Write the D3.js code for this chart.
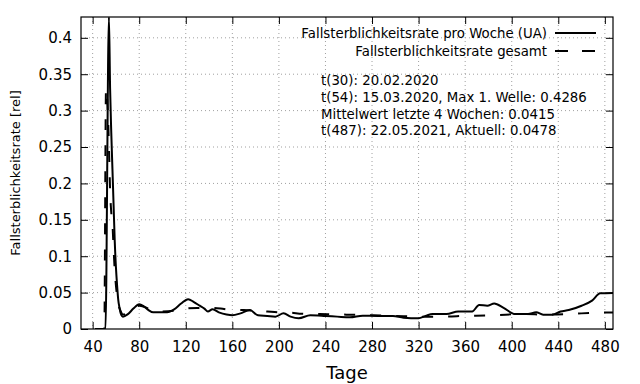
<!DOCTYPE html>
<html>
<head>
<meta charset="utf-8">
<script src="https://cdn.jsdelivr.net/npm/d3@7/dist/d3.min.js"></script>
<style>
  body { margin: 0; background: #fff; }
  svg { font-family: "DejaVu Sans", sans-serif; }
  .grid line { stroke: #a0a0a0; stroke-dasharray: 1,3; }
</style>
</head>
<body>
<svg id="my-svg" width="640" height="384"></svg>
<script>
// Tage (x) und Werte der beiden Kurven
const weekDays = [42, 51, 54, 55, 56, 57, 58, 59, 60, 61, 62, 63, 64, 66, 70, 75, 80, 84, 88, 92, 98, 104,
    110, 116, 122, 127, 132, 136, 139, 143, 149, 155, 160, 167, 175, 182, 190, 197, 204, 210, 217, 227,
    240, 250, 261, 272, 285, 298, 307, 320, 326, 332, 344, 354, 366, 372, 379, 385, 393, 403, 414, 421,
    427, 435, 442, 449, 460, 469, 476, 487];
const weekRate = [0, 0, 0.4286, 0.33, 0.27, 0.22, 0.17, 0.12, 0.085, 0.06, 0.04, 0.03, 0.022, 0.017, 0.02, 0.028, 0.034, 0.031, 0.026, 0.023, 0.023, 0.023,
    0.027, 0.035, 0.041, 0.037, 0.032, 0.028, 0.024, 0.027, 0.0225, 0.02, 0.019, 0.0215, 0.026, 0.019, 0.018, 0.017, 0.0215, 0.017, 0.0147, 0.019,
    0.018, 0.017, 0.016, 0.0183, 0.018, 0.018, 0.0155, 0.0147, 0.018, 0.0206, 0.0206, 0.024, 0.024, 0.033, 0.032, 0.035, 0.029, 0.0206, 0.0206, 0.023,
    0.0197, 0.0197, 0.024, 0.026, 0.032, 0.039, 0.049, 0.0495];

const totalDays = [42, 50, 51.5, 53, 54, 55, 56, 57, 58, 59, 60, 61, 62, 64, 66, 70, 75, 80, 85, 92, 100, 110,
    120, 130, 140, 150, 160, 170, 180, 190, 200, 210, 220, 235, 250, 265, 280, 300, 320, 340, 360, 385,
    410, 430, 450, 475, 487];
const totalRate = [0, 0, 0.33, 0.3, 0.25, 0.19, 0.16, 0.145, 0.11, 0.08, 0.06, 0.045, 0.035, 0.025, 0.02, 0.022, 0.028, 0.032, 0.03, 0.025, 0.024, 0.025,
    0.028, 0.029, 0.029, 0.028, 0.026, 0.026, 0.025, 0.024, 0.023, 0.0225, 0.021, 0.0205, 0.02, 0.0195, 0.019, 0.018, 0.017, 0.017, 0.018, 0.019,
    0.0206, 0.0197, 0.0206, 0.0225, 0.0225];

const xTicks = [40, 80, 120, 160, 200, 240, 280, 320, 360, 400, 440, 480];
const yTicks = [0, 0.05, 0.1, 0.15, 0.2, 0.25, 0.3, 0.35, 0.4];

const legendLabels = ["Fallsterblichkeitsrate pro Woche (UA)", "Fallsterblichkeitsrate gesamt"];
const noteLines = [
    "t(30): 20.02.2020",
    "t(54): 15.03.2020, Max 1. Welle: 0.4286",
    "Mittelwert letzte 4 Wochen: 0.0415",
    "t(487): 22.05.2021, Aktuell: 0.0478"
];

const svg = d3.select('svg');
const margin = {top: 17, right: 27, bottom: 55, left: 81};
const innerWidth = 640 - margin.left - margin.right;
const innerHeight = 384 - margin.top - margin.bottom;

const xScale = d3.scaleLinear().domain([30, 487]).range([0, innerWidth]);
const yScale = d3.scaleLinear().domain([0, 0.4286]).range([innerHeight, 0]);

const g = svg.append('g').attr('transform', `translate(${margin.left}, ${margin.top})`);

// Gitter
g.append('g').attr('class', 'grid')
    .selectAll('line').data(xTicks).enter().append('line')
    .attr('x1', d => xScale(d)).attr('x2', d => xScale(d))
    .attr('y1', 0).attr('y2', innerHeight);
g.append('g').attr('class', 'grid')
    .selectAll('line').data(yTicks.filter(d => d > 0)).enter().append('line')
    .attr('x1', 0).attr('x2', innerWidth)
    .attr('y1', d => yScale(d)).attr('y2', d => yScale(d));

const yFormat = d => d === 0 ? '0' : String(+d.toFixed(2));

const xAxis = d3.axisBottom(xScale).tickValues(xTicks).tickSize(-7).tickPadding(12);
const yAxis = d3.axisLeft(yScale).tickValues(yTicks).tickSize(-7).tickPadding(9).tickFormat(yFormat);

g.append('g').call(xAxis)
    .attr('transform', `translate(0, ${innerHeight})`)
    .attr('font-size', 15).attr('font-family', '"DejaVu Sans", sans-serif');
g.append('g').call(yAxis)
    .attr('font-size', 15).attr('font-family', '"DejaVu Sans", sans-serif');

// gespiegelte Ticks oben und rechts, ohne Beschriftung
const topTicks = g.append('g').call(d3.axisTop(xScale).tickValues(xTicks).tickSize(-7));
const rightTicks = g.append('g').call(d3.axisRight(yScale).tickValues(yTicks).tickSize(-7))
    .attr('transform', `translate(${innerWidth}, 0)`);
topTicks.selectAll('text').remove();
rightTicks.selectAll('text').remove();

g.selectAll('.domain').remove();
g.selectAll('.tick line').attr('stroke', '#000');
g.selectAll('.tick text').attr('fill', '#000');

g.append('rect')
    .attr('width', innerWidth).attr('height', innerHeight)
    .attr('fill', 'none').attr('stroke', '#000').attr('stroke-width', 1.2);

// Kurven
g.append('clipPath').attr('id', 'clip')
    .append('rect').attr('width', innerWidth).attr('height', innerHeight);

const line = d3.line()
    .x(d => xScale(d[0]))
    .y(d => yScale(d[1]))
    .curve(d3.curveMonotoneX);

g.append('path')
    .datum(totalDays.map((d, i) => [d, totalRate[i]]))
    .attr('clip-path', 'url(#clip)')
    .attr('fill', 'none').attr('stroke', '#000').attr('stroke-width', 2)
    .attr('stroke-dasharray', '11,15')
    .attr('d', line);

g.append('path')
    .datum(weekDays.map((d, i) => [d, weekRate[i]]))
    .attr('clip-path', 'url(#clip)')
    .attr('fill', 'none').attr('stroke', '#000').attr('stroke-width', 2)
    .attr('d', line);

// Legende
const legend = svg.append('g');
legendLabels.forEach((label, i) => {
    const y = 33 + i * 18;
    legend.append('text')
        .attr('x', 547).attr('y', y + 4.5)
        .attr('text-anchor', 'end').attr('font-size', 13.3)
        .text(label);
    legend.append('line')
        .attr('x1', 555).attr('x2', 596).attr('y1', y).attr('y2', y)
        .attr('stroke', '#000').attr('stroke-width', 2)
        .attr('stroke-dasharray', i === 0 ? null : '13,14');
});

// Anmerkungen
noteLines.forEach((t, i) => {
    svg.append('text')
        .attr('x', 321).attr('y', 85 + i * 16.8)
        .attr('font-size', 13.3)
        .text(t);
});

// Achsentitel
svg.append('text')
    .attr('x', margin.left + innerWidth / 2).attr('y', 379)
    .attr('text-anchor', 'middle').attr('font-size', 18)
    .text('Tage');

svg.append('text')
    .attr('transform', `translate(20, ${margin.top + innerHeight / 2}) rotate(-90)`)
    .attr('text-anchor', 'middle').attr('font-size', 13)
    .text('Fallsterblichkeitsrate [rel]');
</script>
</body>
</html>
